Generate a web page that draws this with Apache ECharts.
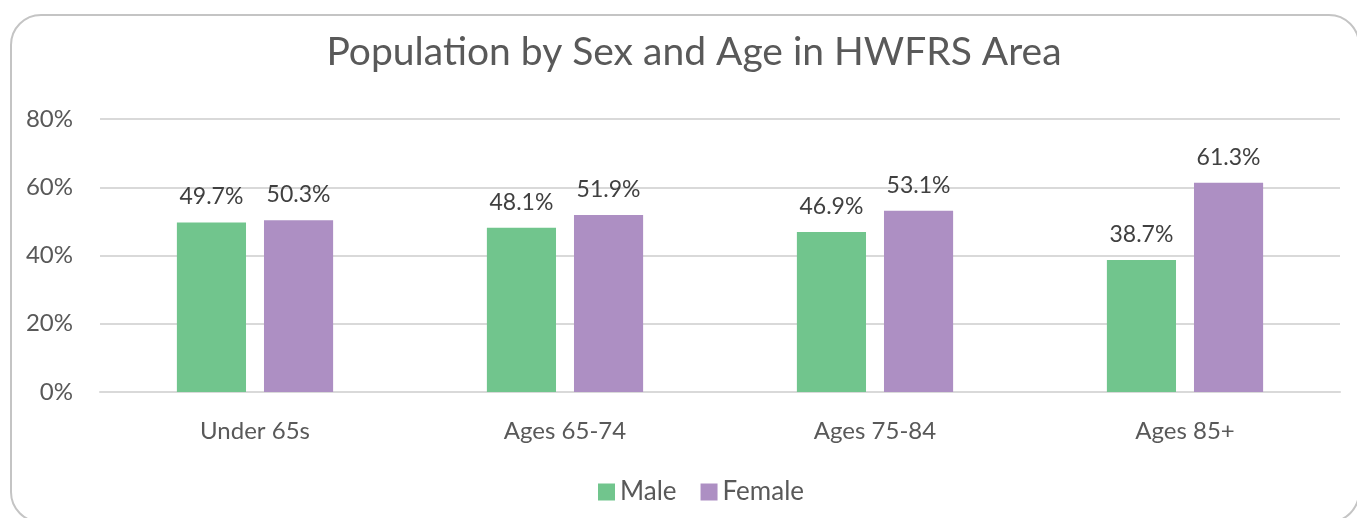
<!DOCTYPE html>
<html><head><meta charset="utf-8">
<script src="https://cdn.jsdelivr.net/npm/echarts@6/dist/echarts.min.js"></script>
<style>html,body{margin:0;padding:0;background:#fff}#c{width:1357px;height:518px}</style>
</head><body><div id="c"></div>
<script>
const categories = ["Under 65s", "Ages 65-74", "Ages 75-84", "Ages 85+"];
const male = [49.7, 48.1, 46.9, 38.7];
const female = [50.3, 51.9, 53.1, 61.3];
const seriesNames = ["Male", "Female"];
const titleText = "Population by Sex and Age in HWFRS Area";

const FONT = "Lato, 'Noto Sans', sans-serif";
const chart = echarts.init(document.getElementById('c'), null, {renderer: 'canvas'});
const lbl = {show: true, position: 'top', distance: 14, color: '#404040', fontSize: 23, fontFamily: FONT,
  formatter: p => p.value.toFixed(1) + '%'};
chart.setOption({
  animation: false,
  graphic: [{type: 'rect', shape: {x: 11, y: 15, width: 1348, height: 507, r: 30},
    style: {fill: 'none', stroke: '#c4c4c4', lineWidth: 2}, silent: true, z: -1}],
  title: {text: titleText, left: 689, top: 28, textAlign: 'center',
    textStyle: {fontFamily: FONT, fontSize: 39, fontWeight: 'normal', color: '#595959'}},
  legend: {data: seriesNames, left: 593, top: 474, itemWidth: 17, itemHeight: 17, itemGap: 24,
    icon: 'rect', textStyle: {fontFamily: FONT, fontSize: 26, color: '#595959'}},
  grid: {left: 100, right: 17, top: 119, bottom: 126, containLabel: false},
  xAxis: {type: 'category', data: categories,
    axisLine: {show: true, lineStyle: {color: '#d9d9d9', width: 2}}, axisTick: {show: false},
    axisLabel: {fontFamily: FONT, fontSize: 24, color: '#595959', margin: 27}},
  yAxis: {type: 'value', min: 0, max: 80, interval: 20,
    axisLine: {show: false}, axisTick: {show: false},
    axisLabel: {formatter: '{value}%', fontFamily: FONT, fontSize: 24, color: '#595959', margin: 27},
    splitLine: {lineStyle: {color: '#d9d9d9', width: 2}}},
  series: [
    {name: seriesNames[0], type: 'bar', data: male, barWidth: '22.3%', barGap: '26%',
      itemStyle: {color: '#71c58d'}, label: lbl},
    {name: seriesNames[1], type: 'bar', data: female, barWidth: '22.3%',
      itemStyle: {color: '#ad8fc3'}, label: lbl}
  ]
});
</script></body></html>
